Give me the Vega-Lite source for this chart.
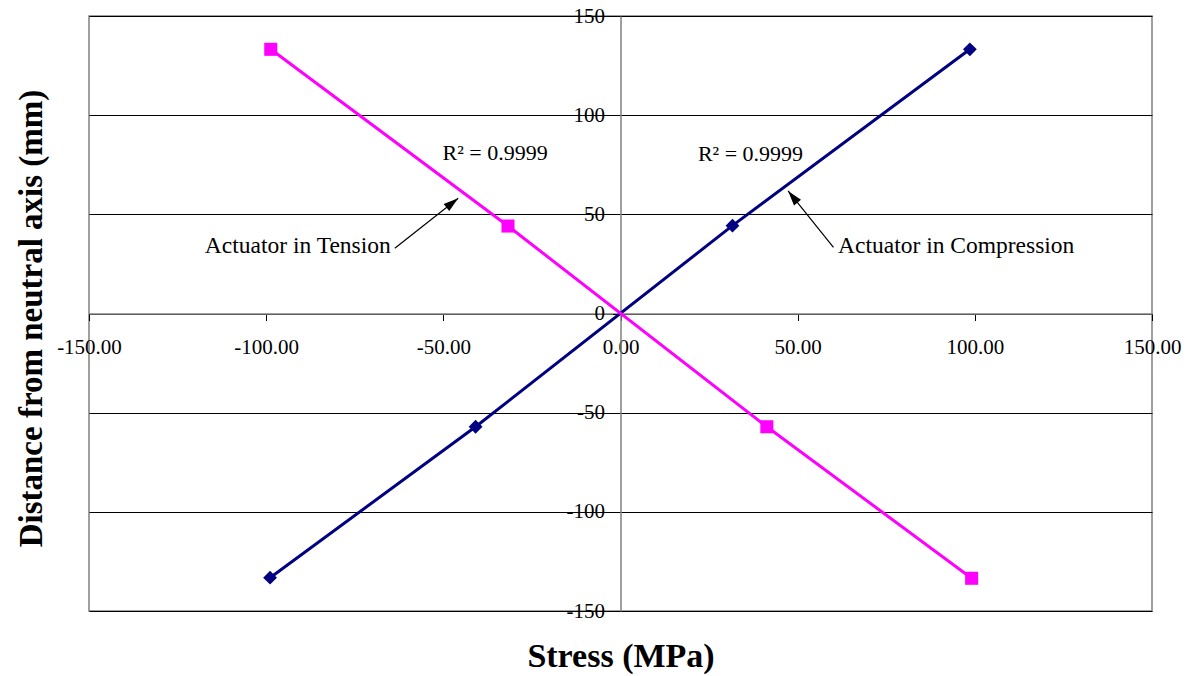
{
  "$schema": "https://vega.github.io/schema/vega-lite/v6.json",
  "width": 1063,
  "height": 595,
  "autosize": {"type": "none"},
  "padding": {"left": 89, "top": 16, "right": 40, "bottom": 65},
  "background": "white",
  "config": {
    "view": {"stroke": "#808080", "strokeWidth": 1.5},
    "font": "Liberation Serif"
  },
  "datasets": {
    "pts": [
      {"series": "Compression", "stress": -98.9, "dist": -133.2},
      {"series": "Compression", "stress": -40.9, "dist": -57.1},
      {"series": "Compression", "stress": 31.6, "dist": 44.3},
      {"series": "Compression", "stress": 98.6, "dist": 133.2},
      {"series": "Tension", "stress": -98.7, "dist": 133.2},
      {"series": "Tension", "stress": -31.75, "dist": 44.1},
      {"series": "Tension", "stress": 41.3, "dist": -57.1},
      {"series": "Tension", "stress": 99.1, "dist": -133.5}
    ],
    "labels": [
      {"label": "R² = 0.9999", "kind": "r2", "stress": -35.4, "dist": 77.4},
      {"label": "R² = 0.9999", "kind": "r2", "stress": 36.7, "dist": 76.9},
      {"label": "Actuator in Tension", "kind": "name", "stress": -117.3, "dist": 30.7},
      {"label": "Actuator in Compression", "kind": "name", "stress": 61.4, "dist": 30.4}
    ],
    "arrows": [
      {"arrow": "Tension", "x1": -63.7, "y1": 32.9, "x2": -45.8, "y2": 58.1},
      {"arrow": "Compression", "x1": 60.1, "y1": 33.4, "x2": 47.3, "y2": 61.8}
    ]
  },
  "layer": [
    {
      "data": {"name": "pts"},
      "mark": {"type": "line", "strokeWidth": 3},
      "encoding": {
        "x": {
          "field": "stress", "type": "quantitative",
          "scale": {"domain": [-150, 150], "nice": false, "zero": false},
          "axis": {
            "title": "Stress (MPa)",
            "values": [-150, -100, -50, 0, 50, 100, 150],
            "labelExpr": "(datum.value < 0 ? '-' : '') + format(abs(datum.value), '.2f')",
            "offset": -297.5,
            "grid": false,
            "labelFont": "Liberation Serif",
            "labelFontSize": 21,
            "labelColor": "#000",
            "labelBaseline": "alphabetic",
            "labelPadding": 33,
            "labelOverlap": false,
            "labelFlush": false,
            "labelBound": false,
            "tickColor": "#000",
            "tickSize": 7,
            "tickWidth": 1,
            "domainColor": "#808080",
            "domainWidth": 1.5,
            "titleFont": "Liberation Serif",
            "titleFontSize": 34,
            "titleFontWeight": "bold",
            "titleColor": "#000",
            "titleBaseline": "alphabetic",
            "titleY": 352.5
          }
        },
        "y": {
          "field": "dist", "type": "quantitative",
          "scale": {"domain": [-150, 150], "nice": false, "zero": false},
          "axis": {
            "title": "Distance from neutral axis (mm)",
            "values": [-150, -100, -50, 0, 50, 100, 150],
            "labelExpr": "(datum.value < 0 ? '-' : '') + format(abs(datum.value), 'd')",
            "offset": -531.5,
            "grid": true,
            "gridColor": "#000",
            "gridWidth": 1,
            "labelFont": "Liberation Serif",
            "labelFontSize": 21,
            "labelColor": "#000",
            "labelPadding": 8,
            "labelOverlap": false,
            "labelFlush": false,
            "labelBound": false,
            "tickColor": "#000",
            "tickSize": 8,
            "tickWidth": 1,
            "domainColor": "#808080",
            "domainWidth": 1.5,
            "titleFont": "Liberation Serif",
            "titleFontSize": 33,
            "titleFontWeight": "bold",
            "titleColor": "#000",
            "titleBaseline": "alphabetic",
            "titleX": -579,
            "titleY": 302
          }
        },
        "color": {
          "field": "series", "type": "nominal",
          "scale": {"domain": ["Compression", "Tension"], "range": ["#000080", "#FF00FF"]},
          "legend": null
        },
        "order": {"field": "stress", "type": "quantitative"}
      }
    },
    {
      "data": {"name": "pts"},
      "transform": [{"filter": "datum.series === 'Compression'"}],
      "mark": {"type": "point", "shape": "diamond", "filled": true, "size": 190, "color": "#000080", "opacity": 1},
      "encoding": {
        "x": {"field": "stress", "type": "quantitative"},
        "y": {"field": "dist", "type": "quantitative"}
      }
    },
    {
      "data": {"name": "pts"},
      "transform": [{"filter": "datum.series === 'Tension'"}],
      "mark": {"type": "point", "shape": "square", "filled": true, "size": 170, "color": "#FF00FF", "opacity": 1},
      "encoding": {
        "x": {"field": "stress", "type": "quantitative"},
        "y": {"field": "dist", "type": "quantitative"}
      }
    },
    {
      "data": {"name": "arrows"},
      "mark": {"type": "rule", "color": "#000", "strokeWidth": 1.2},
      "encoding": {
        "x": {"field": "x1", "type": "quantitative"},
        "y": {"field": "y1", "type": "quantitative"},
        "x2": {"field": "x2"},
        "y2": {"field": "y2"}
      }
    },
    {
      "data": {"name": "arrows"},
      "transform": [{"filter": "datum.arrow === 'Tension'"}],
      "mark": {"type": "point", "shape": "M0,0L-0.6,2L0.6,2Z", "filled": true, "size": 225, "color": "#000", "opacity": 1, "angle": 51.7},
      "encoding": {
        "x": {"field": "x2", "type": "quantitative"},
        "y": {"field": "y2", "type": "quantitative"}
      }
    },
    {
      "data": {"name": "arrows"},
      "transform": [{"filter": "datum.arrow === 'Compression'"}],
      "mark": {"type": "point", "shape": "M0,0L-0.6,2L0.6,2Z", "filled": true, "size": 225, "color": "#000", "opacity": 1, "angle": 321.2},
      "encoding": {
        "x": {"field": "x2", "type": "quantitative"},
        "y": {"field": "y2", "type": "quantitative"}
      }
    },
    {
      "data": {"name": "labels"},
      "transform": [{"filter": "datum.kind === 'r2'"}],
      "mark": {"type": "text", "font": "Liberation Serif", "fontSize": 22, "color": "#000", "align": "center", "baseline": "alphabetic"},
      "encoding": {
        "x": {"field": "stress", "type": "quantitative"},
        "y": {"field": "dist", "type": "quantitative"},
        "text": {"field": "label"}
      }
    },
    {
      "data": {"name": "labels"},
      "transform": [{"filter": "datum.kind === 'name'"}],
      "mark": {"type": "text", "font": "Liberation Serif", "fontSize": 23.5, "color": "#000", "align": "left", "baseline": "alphabetic"},
      "encoding": {
        "x": {"field": "stress", "type": "quantitative"},
        "y": {"field": "dist", "type": "quantitative"},
        "text": {"field": "label"}
      }
    }
  ]
}
